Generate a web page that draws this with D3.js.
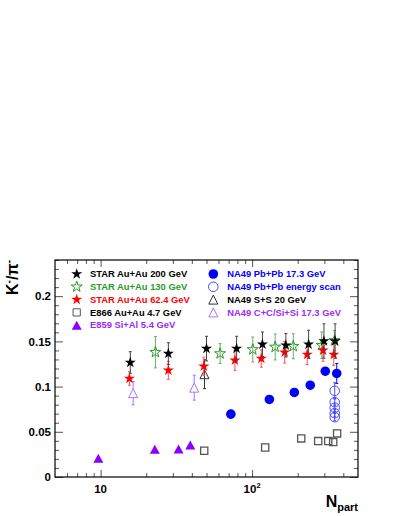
<!DOCTYPE html>
<html>
<head>
<meta charset="utf-8">
<script src="https://cdn.jsdelivr.net/npm/d3@7"></script>
<style>
  body { margin: 0; background: #fff; }
  text { font-family: "Liberation Sans", Arial, Helvetica, sans-serif; font-weight: bold; }
</style>
</head>
<body>
<div id="chart"></div>
<script>
// values (Npart, K-/pi- ratio, error)
const star200Npart = [15.7, 28, 50, 79, 117, 167, 236, 298, 353];
const star200Ratio = [0.1266, 0.1365, 0.142, 0.142, 0.1468, 0.1457, 0.1468, 0.1504, 0.1504];
const star200Err = [0.012, 0.012, 0.0136, 0.0136, 0.0136, 0.013, 0.0155, 0.019, 0.019];

const star130Npart = [23, 61.5, 101, 142, 187, 288, 350];
const star130Ratio = [0.138, 0.1365, 0.141, 0.1438, 0.1446, 0.1457, 0.151];
const star130Err = [0.0173, 0.011, 0.0138, 0.0143, 0.0138, 0.0147, 0.011];

const star62Npart = [15.5, 28, 48, 77, 115, 164, 231, 294, 346];
const star62Ratio = [0.109, 0.118, 0.1225, 0.129, 0.131, 0.138, 0.1354, 0.140, 0.1354];
const star62Err = [0.0075, 0.010, 0.010, 0.011, 0.0096, 0.012, 0.011, 0.012, 0.012];

const e866Npart = [48.3, 122, 211, 273, 318, 343, 364];
const e866Ratio = [0.029, 0.0326, 0.0427, 0.0397, 0.0397, 0.0386, 0.0482];

const e859Npart = [9.66, 22.8, 32.7, 39.1];
const e859Ratio = [0.0206, 0.0306, 0.0309, 0.0353];

const na49PbNpart = [72.4, 130, 190, 242, 304, 362];
const na49PbRatio = [0.0695, 0.0858, 0.0935, 0.1015, 0.117, 0.1145];
const na49PbErr = [0.004, 0.004, 0.004, 0.004, 0.004, 0.011];

const na49ScanNpart = [351, 351, 351, 351, 351];
const na49ScanRatio = [0.0953, 0.0828, 0.0767, 0.0706, 0.0662];
const na49ScanErr = [0.009, 0.004, 0.004, 0.004, 0.004];

const na49SSNpart = [48.5];
const na49SSRatio = [0.1137];
const na49SSErr = [0.016];

const na49LightNpart = [16.4, 41.5];
const na49LightRatio = [0.0927, 0.0988];
const na49LightErr = [0.0129, 0.0138];

const yTicks = [0, 0.05, 0.1, 0.15, 0.2];
const xTickLabels = [{v: 10, base: "10", sup: ""}, {v: 100, base: "10", sup: "2"}];

let width = 399;
let height = 516;
let margin = {top: 260, right: 41, bottom: 39, left: 55};

let color = {
  black: '#000',
  green: '#2b9a2b',
  red: '#ff0000',
  blue: '#0000ff',
  blueOpen: '#4a4aff',
  violet: '#8b00ff',
  violetOpen: '#b070ff',
  grey: '#555'
};

const zip = (xs, ys, es) => xs.map((d, i) => ({n: d, r: ys[i], e: es ? es[i] : 0}));

const x = d3.scaleLog()
  .domain([5, 500])
  .range([margin.left, width - margin.right]);

const y = d3.scaleLinear()
  .domain([0, 0.24])
  .range([height - margin.bottom, margin.top]);

const svg = d3.select("#chart").append("svg")
  .attr("width", width)
  .attr("height", height);

// marker shapes
const starPath = d3.symbol().type(d3.symbolStar).size(38)();
const circlePath = d3.symbol().type(d3.symbolCircle).size(72)();
const squarePath = d3.symbol().type(d3.symbolSquare).size(52)();
const triPath = (w, h) => `M0,${-h / 2}L${w / 2},${h / 2}L${-w / 2},${h / 2}Z`;

// axes: ticks drawn inward like ROOT
const x0 = margin.left, x1 = width - margin.right;
const y0 = height - margin.bottom, y1 = margin.top;

const yMinor = d3.range(0, 0.2401, 0.01).filter(v => !yTicks.some(t => Math.abs(t - v) < 1e-6));
const xMajor = [10, 100];
const xMinor = [6, 7, 8, 9, 20, 30, 40, 50, 60, 70, 80, 90, 200, 300, 400];

const tickStyle = g => g.call(g => g.select(".domain").remove())
  .selectAll("line").attr("stroke", color.grey).attr("stroke-width", 1);

svg.append("g").attr("transform", `translate(${x0},0)`)
  .call(d3.axisLeft(y).tickValues(yTicks).tickSize(-8).tickPadding(4).tickFormat(d => d))
  .call(tickStyle)
  .call(g => g.selectAll("text").attr("font-size", 11.5).attr("fill", "#000").attr("font-family", null));
svg.append("g").attr("transform", `translate(${x0},0)`)
  .call(d3.axisLeft(y).tickValues(yMinor).tickSize(-4).tickFormat(""))
  .call(tickStyle);
svg.append("g").attr("transform", `translate(${x1},0)`)
  .call(d3.axisRight(y).tickValues(yTicks).tickSize(-8).tickFormat(""))
  .call(tickStyle);
svg.append("g").attr("transform", `translate(${x1},0)`)
  .call(d3.axisRight(y).tickValues(yMinor).tickSize(-4).tickFormat(""))
  .call(tickStyle);

svg.append("g").attr("transform", `translate(0,${y0})`)
  .call(d3.axisBottom(x).tickValues(xMajor).tickSize(-7).tickFormat(""))
  .call(tickStyle);
svg.append("g").attr("transform", `translate(0,${y0})`)
  .call(d3.axisBottom(x).tickValues(xMinor).tickSize(-4).tickFormat(""))
  .call(tickStyle);
svg.append("g").attr("transform", `translate(0,${y1})`)
  .call(d3.axisTop(x).tickValues(xMajor).tickSize(-7).tickFormat(""))
  .call(tickStyle);
svg.append("g").attr("transform", `translate(0,${y1})`)
  .call(d3.axisTop(x).tickValues(xMinor).tickSize(-4).tickFormat(""))
  .call(tickStyle);

// x tick labels (10, 10^2)
const xl = svg.append("g").selectAll("text")
  .data(xTickLabels)
  .enter().append("text")
  .attr("x", d => x(d.v))
  .attr("y", y0 + 16)
  .attr("text-anchor", "middle")
  .attr("font-size", 11.5);
xl.append("tspan").text(d => d.base);
xl.append("tspan").attr("dy", -5).attr("font-size", 7.5).text(d => d.sup);

// frame
svg.append("rect")
  .attr("x", x0).attr("y", y1)
  .attr("width", x1 - x0).attr("height", y0 - y1)
  .attr("fill", "none").attr("stroke", "#000").attr("stroke-width", 1.2);

// axis titles
const xt = svg.append("text")
  .attr("x", x1)
  .attr("y", 506.5)
  .attr("text-anchor", "end")
  .attr("font-size", 16);
xt.append("tspan").text("N");
xt.append("tspan").attr("dy", 4).attr("font-size", 11).text("part");

const yt = svg.append("text")
  .attr("transform", `translate(18,${y1}) rotate(-90)`)
  .attr("text-anchor", "end")
  .attr("font-size", 16);
yt.append("tspan").text("K");
yt.append("tspan").attr("dy", -6).attr("font-size", 10).text("-");
yt.append("tspan").attr("dy", 6).text("/π");
yt.append("tspan").attr("dy", -6).attr("font-size", 10).text("-");

// error bars with small caps
let drawErrors = function (data, stroke) {
  const g = svg.append("g").attr("stroke", stroke).attr("stroke-width", 1);
  const pts = data.filter(d => d.e > 0);
  g.selectAll(".v").data(pts).enter().append("line")
    .attr("x1", d => x(d.n)).attr("x2", d => x(d.n))
    .attr("y1", d => y(d.r - d.e)).attr("y2", d => y(d.r + d.e));
  g.selectAll(".t").data(pts).enter().append("line")
    .attr("x1", d => x(d.n) - 1.5).attr("x2", d => x(d.n) + 1.5)
    .attr("y1", d => y(d.r + d.e)).attr("y2", d => y(d.r + d.e));
  g.selectAll(".b").data(pts).enter().append("line")
    .attr("x1", d => x(d.n) - 1.5).attr("x2", d => x(d.n) + 1.5)
    .attr("y1", d => y(d.r - d.e)).attr("y2", d => y(d.r - d.e));
};

let drawMarkers = function (data, path, fill, stroke, sw) {
  svg.append("g").selectAll("path")
    .data(data)
    .enter().append("path")
    .attr("d", path)
    .attr("transform", d => `translate(${x(d.n)},${y(d.r)})`)
    .attr("fill", fill)
    .attr("stroke", stroke)
    .attr("stroke-width", sw);
};

const e866 = zip(e866Npart, e866Ratio);
const e859 = zip(e859Npart, e859Ratio);
const na49Pb = zip(na49PbNpart, na49PbRatio, na49PbErr);
const na49Scan = zip(na49ScanNpart, na49ScanRatio, na49ScanErr);
const na49SS = zip(na49SSNpart, na49SSRatio, na49SSErr);
const na49Light = zip(na49LightNpart, na49LightRatio, na49LightErr);
const star130 = zip(star130Npart, star130Ratio, star130Err);
const star62 = zip(star62Npart, star62Ratio, star62Err);
const star200 = zip(star200Npart, star200Ratio, star200Err);

drawMarkers(e866, squarePath, "none", color.grey, 1.3);
drawMarkers(e859, triPath(10, 9), color.violet, "none", 0);
drawErrors(na49Pb, color.blue);
drawMarkers(na49Pb, circlePath, color.blue, "none", 0);
drawErrors(na49Scan, color.blueOpen);
drawMarkers(na49Scan, circlePath, "none", color.blueOpen, 1);
drawErrors(na49Light, color.violetOpen);
drawMarkers(na49Light, triPath(9, 9), "#fff", color.violetOpen, 1);
drawErrors(na49SS, "#333");
drawMarkers(na49SS, triPath(9, 9), "none", "#333", 1);
drawErrors(star130, "#66b066");
drawMarkers(star130, starPath, "none", color.green, 1);
drawErrors(star62, "#ff5555");
drawMarkers(star62, starPath, color.red, "none", 0);
drawErrors(star200, "#444");
drawMarkers(star200, starPath, color.black, "none", 0);

// legend
const legendLeft = [
  {label: "STAR Au+Au 200 GeV", c: color.black, path: starPath, fill: color.black, stroke: "none"},
  {label: "STAR Au+Au 130 GeV", c: color.green, path: starPath, fill: "none", stroke: color.green},
  {label: "STAR Au+Au 62.4 GeV", c: color.red, path: starPath, fill: color.red, stroke: "none"},
  {label: "E866 Au+Au 4.7 GeV", c: color.black, path: squarePath, fill: "none", stroke: color.grey},
  {label: "E859 Si+Al 5.4 GeV", c: "#9a2cf5", path: triPath(10, 9), fill: color.violet, stroke: "none"}
];
const legendRight = [
  {label: "NA49 Pb+Pb 17.3 GeV", c: color.blue, path: circlePath, fill: color.blue, stroke: "none"},
  {label: "NA49 Pb+Pb energy scan", c: color.blue, path: circlePath, fill: "none", stroke: color.blueOpen},
  {label: "NA49 S+S 20 GeV", c: color.black, path: triPath(9, 9), fill: "none", stroke: "#333"},
  {label: "NA49 C+C/Si+Si 17.3 GeV", c: "#9a2cf5", path: triPath(9, 9), fill: "none", stroke: color.violetOpen}
];

let drawLegend = function (items, mx, tx) {
  const g = svg.append("g").selectAll("g")
    .data(items)
    .enter().append("g")
    .attr("transform", (d, i) => `translate(0,${274 + i * 12.8})`);
  g.append("path")
    .attr("d", d => d.path)
    .attr("transform", `translate(${mx},0)`)
    .attr("fill", d => d.fill)
    .attr("stroke", d => d.stroke)
    .attr("stroke-width", 1);
  g.append("text")
    .attr("x", tx)
    .attr("dy", "0.35em")
    .attr("font-size", 9.4)
    .attr("fill", d => d.c)
    .text(d => d.label);
};

drawLegend(legendLeft, 76.7, 90);
drawLegend(legendRight, 213.3, 227.3);
</script>
</body>
</html>
